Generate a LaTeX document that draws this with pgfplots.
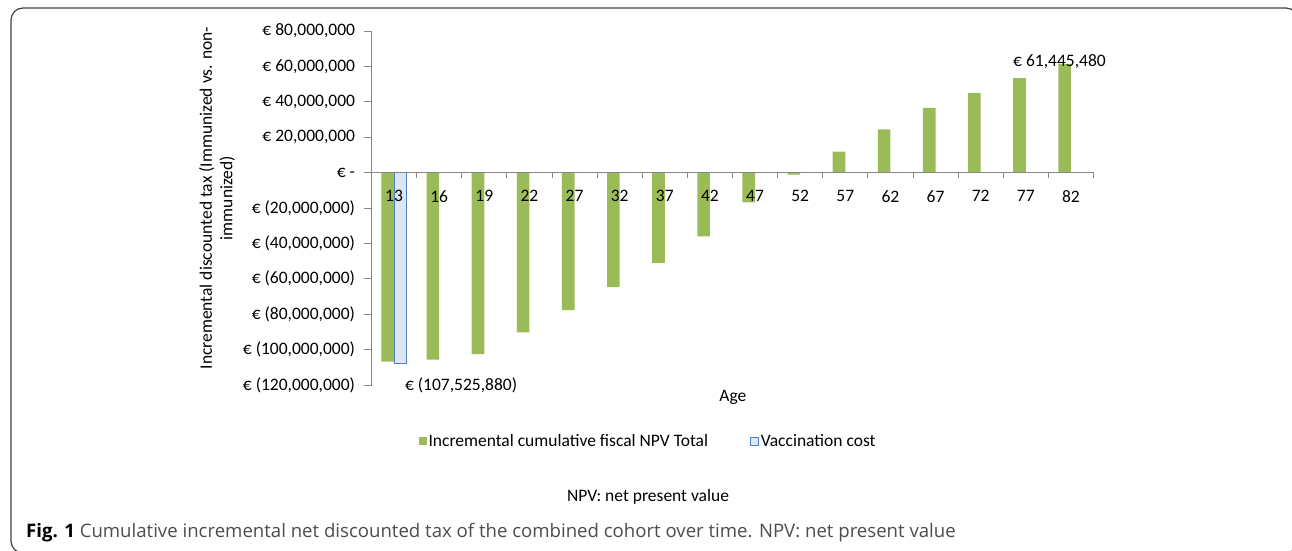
\documentclass[border=0pt]{standalone}
\usepackage{pgfplots}
\pgfplotsset{compat=1.18}
\usepackage{fontspec}
\setmainfont{Carlito}
\newfontfamily\capfont{Open Sans}
\definecolor{barg}{HTML}{9BBB59}
\definecolor{vfill}{HTML}{DCE6F2}
\definecolor{vedge}{HTML}{4F81BD}
\definecolor{axgray}{HTML}{868686}
\newcommand\cf{\fontsize{17.5}{20.5}\selectfont}
\begin{document}
\begin{tikzpicture}[x=1pt,y=1pt]
\useasboundingbox (0,0) rectangle (1292,551);
\begin{scope}
\clip (0,0) rectangle (1292,551);
\draw[black!75, line width=1.2pt, rounded corners=12pt] (11,-2) rectangle (1298,543);
\end{scope}
\begin{axis}[
  at={(371.5pt,166pt)}, anchor=south west,
  scale only axis, width=722pt, height=354pt,
  xmin=-0.5, xmax=15.5, ymin=-120e6, ymax=80e6,
  axis x line*=middle, axis y line*=left,
  axis line style={axgray, line width=1pt},
  axis on top,
  clip=false,
  ybar=0pt, bar width=12.6pt,
  xtick={0,...,15},
  xticklabels={13,16,19,22,27,32,37,42,47,52,57,62,67,72,77,82},
  major x tick style={draw=none},
  minor xtick={-0.5,0.5,...,15.5},
  minor x tick style={axgray, line width=0.8pt},
  minor tick length=5pt,
  tick align=outside,
  xticklabel style={font=\cf, anchor=north, yshift=-6.5pt},
  ytick={-120e6,-100e6,-80e6,-60e6,-40e6,-20e6,0,20e6,40e6,60e6,80e6},
  yticklabels={{€ (120,000,000)},{€ (100,000,000)},{€ (80,000,000)},{€ (60,000,000)},{€ (40,000,000)},{€ (20,000,000)},{€ -\hspace{12pt}},{€ 20,000,000},{€ 40,000,000},{€ 60,000,000},{€ 80,000,000}},
  y tick style={axgray, line width=0.8pt},
  major tick length=8pt,
  yticklabel style={font=\cf, anchor=east, xshift=-5pt},
  scaled y ticks=false,
  legend style={at={(rel axis cs:0.383,-0.158)}, anchor=center, draw=none, fill=none, legend columns=2, font=\cf,
    /tikz/every even column/.append style={column sep=40pt}},
  legend cell align=left,
]
\addplot[fill=barg, draw=none, legend image code/.code={\fill[barg] (0pt,-4pt) rectangle (8pt,4pt);}] coordinates {
(0,-106.8e6) (1,-105.7e6) (2,-102.5e6) (3,-90.3e6) (4,-77.7e6) (5,-64.7e6) (6,-51.0e6) (7,-36.0e6)
(8,-16.8e6) (9,-1.1e6) (10,11.8e6) (11,24.4e6) (12,36.5e6) (13,45.0e6) (14,53.4e6) (15,61445480)};
\addlegendentry{Incremental cumulative fiscal NPV Total}
\addplot[fill=vfill, draw=vedge, line width=0.8pt, legend image code/.code={\draw[fill=vfill, draw=vedge, line width=0.8pt] (0pt,-4pt) rectangle (8pt,4pt);}] coordinates {(0,-107525880)};
\addlegendentry{Vaccination cost}
\node[anchor=west, inner sep=0pt, font=\cf] at (axis cs:0.24,-120e6) {€ (107,525,880)};
\node[anchor=west, inner sep=0pt, font=\cf] at (axis cs:13.716,62.8e6) {€ 61,445,480};
\node[font=\cf] at (axis cs:7.51,-127.1e6) {Age};
\end{axis}
\node[rotate=90, align=center, font=\cf] at (217,353) {Incremental discounted tax (Immunized vs. non-\\immunized)};
\node[font=\cf] at (648,54) {NPV: net present value};
\node[anchor=west, inner sep=0pt, font=\capfont\fontsize{18.6}{22}\selectfont, text=black!70] at (26,18) {\textcolor{black}{\bfseries Fig. 1} Cumulative incremental net discounted tax of the combined cohort over time. NPV: net present value};
\end{tikzpicture}
\end{document}
